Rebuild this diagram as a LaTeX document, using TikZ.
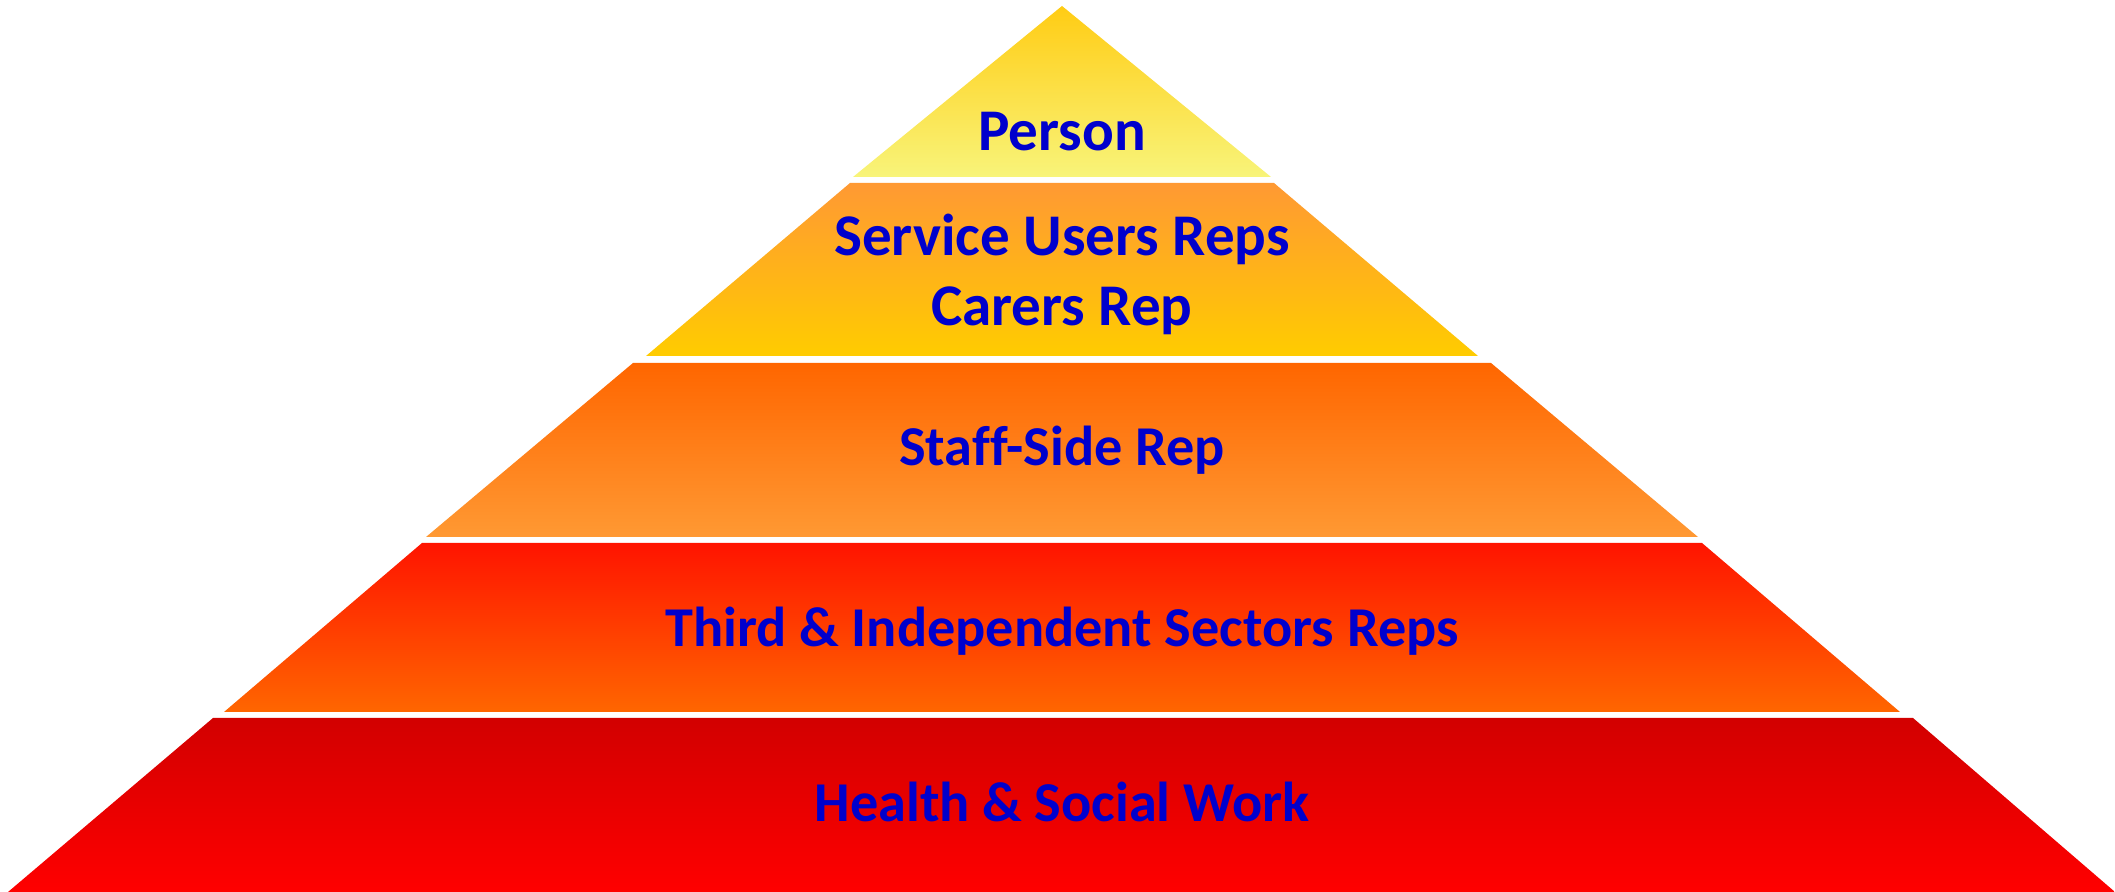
\documentclass[tikz,border=0pt]{standalone}
\usepackage{fontspec}
\setmainfont{Carlito}[Ligatures=CommonOff]
\definecolor{repblue}{RGB}{0,0,204}
\definecolor{goldtop}{RGB}{255,204,20}
\definecolor{paleyellow}{RGB}{248,244,122}
\definecolor{lightorange}{RGB}{255,153,51}
\definecolor{gold}{RGB}{255,204,0}
\definecolor{darkorange}{RGB}{255,102,0}
\definecolor{redtop}{RGB}{255,20,0}
\definecolor{darkred}{RGB}{210,0,0}
\definecolor{brightred}{RGB}{255,0,0}
\begin{document}
\begin{tikzpicture}[x=0.01cm, y=-0.01cm,
        tier/.style={draw=none},
        tiertext/.style={text=repblue, anchor=base, inner sep=0pt,
            font=\fontsize{16.8}{20}\selectfont\bfseries},
        widetext/.style={tiertext, font=\fontsize{16}{19}\selectfont\bfseries}]
        \useasboundingbox (0,0) rectangle (2115,892);

        \shade[tier, top color=goldtop, bottom color=paleyellow]
            (1062,6) -- (1271,177) -- (853,177) -- cycle;
        \shade[tier, top color=lightorange, bottom color=gold]
            (850,183) -- (1274,183) -- (1478,356) -- (646,356) -- cycle;
        \shade[tier, top color=darkorange, bottom color=lightorange]
            (633,363) -- (1491,363) -- (1698,537) -- (426,537) -- cycle;
        \shade[tier, top color=redtop, bottom color=darkorange]
            (422,543) -- (1702,543) -- (1900,712) -- (224,712) -- cycle;
        \shade[tier, top color=darkred, bottom color=brightred]
            (213,718) -- (1913,718) -- (2115,892) -- (8,892) -- cycle;

        \node[style=tiertext] (person) at (1062,151) {Person};
        \node[style=tiertext] (users)  at (1062,256) {Service Users Reps};
        \node[style=tiertext] (carers) at (1062,326) {Carers Rep};
        \node[style=widetext] (staff)  at (1062,466) {Staff-Side Rep};
        \node[style=widetext] (third)  at (1062,647) {Third \& Independent Sectors Reps};
        \node[style=widetext] (health) at (1062,822) {Health \& Social Work};
    \end{tikzpicture}
\end{document}
